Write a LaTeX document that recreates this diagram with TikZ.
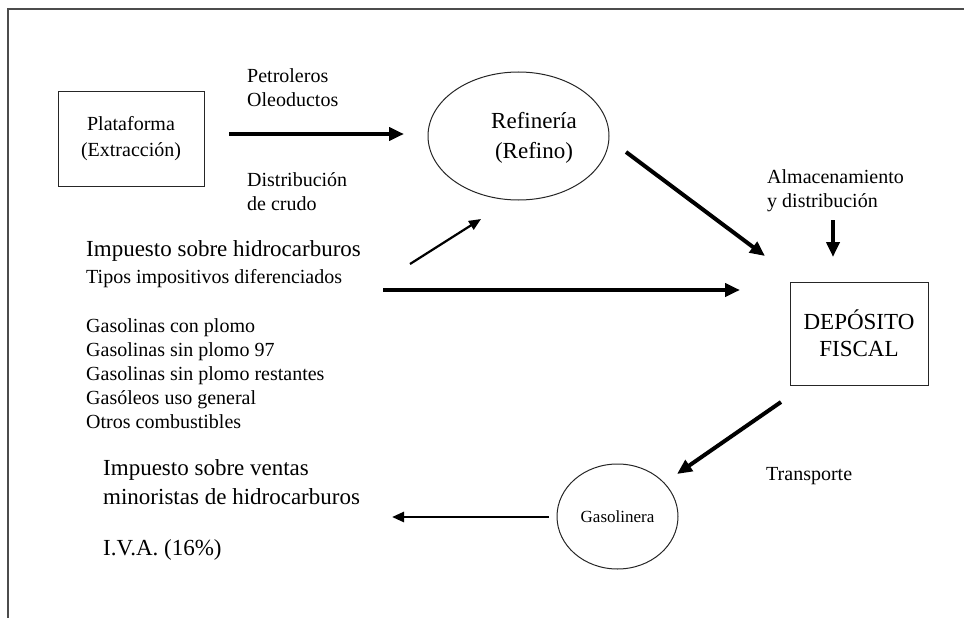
\documentclass[tikz,border=0pt]{standalone}
\usepackage{fontspec}
\setmainfont{Liberation Serif}
\usetikzlibrary{arrows.meta,shapes.geometric}
\tikzset{
  txt/.style={inner sep=0pt, align=left, anchor=west, font=\fontsize{20}{24}\selectfont},
  bigtxt/.style={inner sep=0pt, align=left, anchor=west, font=\fontsize{23}{29}\selectfont},
  heavy/.style={line width=4pt, -{Triangle[length=15pt,width=13pt]}},
  light/.style={line width=2.6pt, -{Triangle[length=12pt,width=10pt]}},
  thin arrow/.style={line width=2.2pt, -{Triangle[length=12pt,width=10pt]}},
  outline/.style={draw=black!85, line width=1pt}
}
\begin{document}
\begin{tikzpicture}[x=1pt,y=-1pt]
\useasboundingbox (0,0) rectangle (964,618);
% page frame (top and left edges)
\draw[line width=1.6pt, black!70] (8,618) -- (8,9) -- (964,9);

% nodes
\node[outline, minimum width=146, minimum height=95, inner sep=0pt, align=center,
      font=\fontsize{20}{26}\selectfont] (plat) at (131,138.5) {Plataforma\\(Extracción)};
\node[outline, ellipse, minimum width=181, minimum height=128, inner sep=0pt] (ref) at (518.5,136) {};
\node[inner sep=0pt, align=center, font=\fontsize{23}{30}\selectfont] (reftxt) at (534,138) {Refinería\\(Refino)};
\node[outline, minimum width=138, minimum height=103, inner sep=0pt, align=center,
      font=\fontsize{23}{27}\selectfont] (dep) at (859,333.5) {DEPÓSITO\\FISCAL};
\node[outline, ellipse, minimum width=121, minimum height=105, inner sep=0pt,
      font=\fontsize{17}{20}\selectfont] (gas) at (617.5,516.5) {Gasolinera};

% labels
\node[txt] (pet) at (247,88) {Petroleros\\Oleoductos};
\node[txt] (dist) at (247,192) {Distribución\\de crudo};
\node[txt] (alm) at (767,191) {Almacenamiento\\y distribución};
\node[txt] (trans) at (766,476) {Transporte};
\node[bigtxt] (ih) at (86,251) {Impuesto sobre hidrocarburos};
\node[txt] (tipos) at (86,279) {Tipos impositivos diferenciados};
\node[txt] (list) at (86,374) {Gasolinas con plomo\\Gasolinas sin plomo 97\\Gasolinas sin plomo restantes\\Gasóleos uso general\\Otros combustibles};
\node[bigtxt] (ivm) at (103,482) {Impuesto sobre ventas\\minoristas de hidrocarburos};
\node[bigtxt] (iva) at (103,550) {I.V.A. (16\%)};

% connector end points
\coordinate (a1s) at (229,134);
\coordinate (a1e) at (404,134);
\coordinate (a2s) at (626,152);
\coordinate (a2e) at (765,256);
\coordinate (a3s) at (833,220);
\coordinate (a3e) at (833,257);
\coordinate (a4s) at (383,290);
\coordinate (a4e) at (740,290);
\coordinate (a5s) at (410,264);
\coordinate (a5e) at (481,219);
\coordinate (a6s) at (781,402);
\coordinate (a6e) at (677,474);
\coordinate (a7s) at (549,517);
\coordinate (a7e) at (392,517);

% connectors
\draw[heavy] (a1s) -- (a1e);
\draw[heavy] (a2s) -- (a2e);
\draw[heavy] (a3s) -- (a3e);
\draw[heavy] (a4s) -- (a4e);
\draw[thin arrow] (a5s) -- (a5e);
\draw[heavy] (a6s) -- (a6e);
\draw[light] (a7s) -- (a7e);
\end{tikzpicture}
\end{document}
